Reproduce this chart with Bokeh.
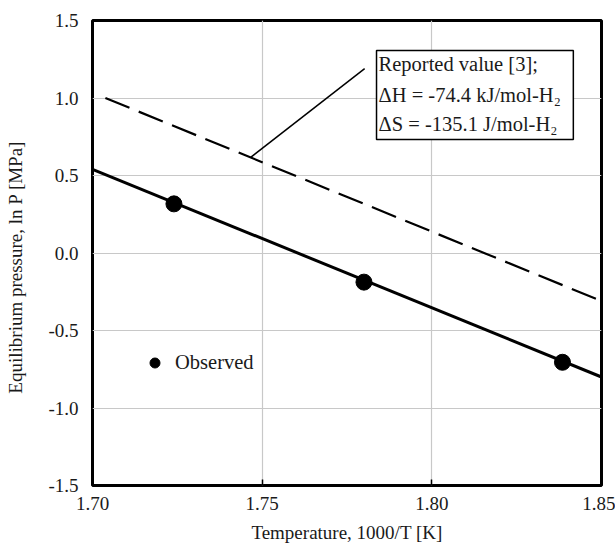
from bokeh.plotting import figure
from bokeh.models import (BoxAnnotation, Label, Legend, LegendItem, Range1d,
                          FixedTicker, NumeralTickFormatter)
from bokeh.embed import file_html
from bokeh.resources import INLINE

# ---- data ----
observed_x = [1.724, 1.780, 1.8385]
observed_y = [0.317, -0.188, -0.705]
fit_x = [1.70, 1.85]
fit_y = [0.54, -0.80]
reported_x = [1.7038, 1.85]
reported_y = [1.0, -0.31]
leader_x = [1.7466, 1.7802]
leader_y = [0.617, 1.19]
x_ticks = [1.70, 1.75, 1.80, 1.85]
y_ticks = [-1.5, -1.0, -0.5, 0.0, 0.5, 1.0, 1.5]
annotation_lines = ["Reported value [3];",
                    "\u0394H = -74.4 kJ/mol-H\u2082",
                    "\u0394S = -135.1 J/mol-H\u2082"]
annotation_y = [1.2165, 1.0165, 0.8294]

FONT = "Liberation Serif"
TXT = "#1a1a1a"

p = figure(width=615, height=552, output_backend="svg", toolbar_location=None,
           x_range=Range1d(1.70, 1.85), y_range=Range1d(-1.5, 1.5),
           min_border_left=92, min_border_right=14, min_border_top=20,
           min_border_bottom=67)
p.outline_line_color = "black"
p.outline_line_width = 3

for ax in (p.xaxis, p.yaxis):
    ax.axis_line_color = None
    ax.major_label_text_font = FONT
    ax.major_label_text_font_size = "19px"
    ax.major_label_text_color = TXT
    ax.axis_label_text_font = FONT
    ax.axis_label_text_font_size = "19px"
    ax.axis_label_text_font_style = "normal"
    ax.axis_label_text_color = TXT
    ax.minor_tick_line_color = None

p.xaxis.ticker = FixedTicker(ticks=x_ticks)
p.yaxis.ticker = FixedTicker(ticks=y_ticks)
p.xaxis.formatter = NumeralTickFormatter(format="0.00")
p.yaxis.formatter = NumeralTickFormatter(format="0.0")
p.xaxis.major_tick_in = 6
p.xaxis.major_tick_out = 0
p.xaxis.major_tick_line_width = 1.5
p.yaxis.major_tick_line_color = None
p.xaxis.major_label_standoff = 11
p.yaxis.major_label_standoff = 8
p.xaxis.axis_label = "Temperature, 1000/T [K]"
p.yaxis.axis_label = "Equilibrium pressure, ln P [MPa]" + "\u00a0" * 6
p.xaxis.axis_label_standoff = 9
p.yaxis.axis_label_standoff = 19

p.xgrid.grid_line_color = "#c8c8c8"
p.ygrid.grid_line_color = "#c8c8c8"
p.xgrid.grid_line_width = 1.2
p.ygrid.grid_line_width = 1.2

p.line(reported_x, reported_y, line_color="black", line_width=2.2, line_dash="26 10")
p.line(fit_x, fit_y, line_color="black", line_width=3)
p.line(leader_x, leader_y, line_color="black", line_width=1.5)
pts = p.scatter(observed_x, observed_y, size=16, color="black")

box = BoxAnnotation(left=1.7837, right=1.8417, top=1.306, bottom=0.732,
                    fill_color="white", fill_alpha=1.0,
                    line_color="black", line_alpha=1.0, line_width=1.5)
p.add_layout(box)
for txt, yy in zip(annotation_lines, annotation_y):
    p.add_layout(Label(x=1.7843, y=yy, text=txt, text_font=FONT,
                       text_font_size="20.5px", text_color=TXT,
                       text_baseline="alphabetic", text_align="left"))

legend = Legend(items=[LegendItem(label="Observed", renderers=[pts])],
                location=(50, 110), glyph_width=25, glyph_height=25,
                padding=0, margin=0, border_line_color=None,
                background_fill_alpha=0, label_text_font=FONT,
                label_text_font_size="20.5px", label_text_color=TXT,
                label_standoff=8)
p.add_layout(legend)

open("out.html", "w").write(file_html(p, INLINE))
